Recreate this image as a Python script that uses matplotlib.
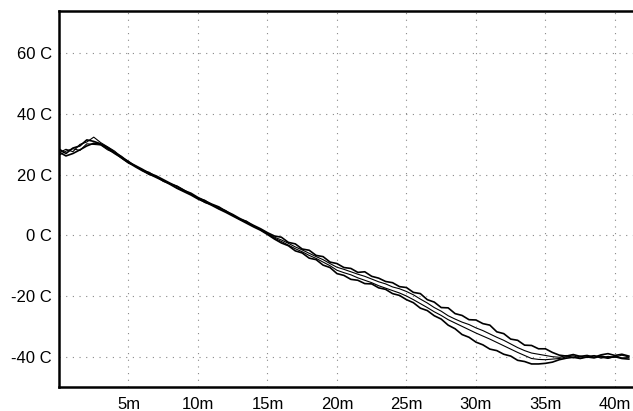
import numpy as np
import matplotlib
matplotlib.use("Agg")
import matplotlib.pyplot as plt

# sample times in minutes (one reading every 30 s)
minutes = np.arange(0, 41.5, 0.5)

# probe temperatures, deg C
probe_a = [28.5, 27.0, 28.8, 29.5, 31.5, 31.0, 30.2, 29.0, 27.4, 26.0,
           24.2, 23.0, 21.8, 20.5, 19.6, 18.4, 17.2, 16.1, 14.8, 13.9,
           12.5, 11.4, 10.3, 9.4, 8.0, 6.9, 5.6, 4.5, 3.3, 2.2,
           0.9, -0.2, -0.6, -2.3, -2.8, -4.5, -4.9, -6.6, -7.0, -8.8,
           -9.3, -10.6, -10.9, -12.2, -12.0, -13.5, -14.1, -15.2, -15.6, -16.9,
           -17.2, -18.8, -19.2, -21.2, -22.0, -23.8, -23.9, -25.8, -26.4, -27.8,
           -27.9, -29.1, -29.6, -31.8, -32.4, -34.2, -34.6, -36.2, -36.3, -37.4,
           -37.4, -38.6, -39.5, -39.8, -39.3, -39.9, -39.6, -40.2, -39.4, -39.0,
           -39.6, -39.2, -39.8]

probe_b = [27.2, 28.4, 27.6, 30.0, 30.8, 32.4, 30.6, 29.2, 27.8, 25.8,
           24.5, 22.8, 21.5, 20.8, 19.3, 18.2, 17.0, 16.3, 15.0, 13.6,
           12.3, 11.6, 10.0, 9.1, 8.2, 6.6, 5.4, 4.7, 3.0, 2.0,
           0.6, -0.6, -1.5, -2.6, -3.8, -4.8, -5.9, -7.0, -8.0, -9.3,
           -10.5, -11.2, -12.0, -12.8, -13.5, -14.4, -15.3, -16.0, -17.0, -17.6,
           -18.5, -19.6, -21.0, -22.3, -23.8, -25.0, -26.5, -27.6, -28.6, -29.4,
           -30.5, -31.4, -32.5, -33.6, -34.6, -35.8, -37.0, -38.0, -38.8, -39.2,
           -39.6, -40.0, -40.2, -39.6, -40.4, -39.8, -40.3, -39.7, -40.5, -39.9,
           -40.2, -39.5, -40.1]

probe_c = [26.4, 27.8, 28.6, 28.0, 30.2, 30.0, 29.8, 28.2, 27.2, 25.4,
           23.8, 22.9, 21.4, 20.0, 19.4, 17.8, 17.0, 15.6, 14.6, 13.5,
           12.2, 10.8, 10.1, 8.8, 7.8, 6.7, 5.3, 4.2, 3.1, 1.8,
           0.5, -0.9, -2.0, -3.2, -4.4, -5.4, -6.6, -7.6, -8.8, -10.0,
           -11.5, -12.3, -13.0, -14.0, -14.8, -15.6, -16.6, -17.4, -18.2, -19.0,
           -20.0, -21.2, -22.5, -23.8, -25.2, -26.4, -27.8, -28.9, -30.0, -31.1,
           -32.2, -33.2, -34.2, -35.3, -36.4, -37.5, -38.6, -39.6, -40.6, -40.9,
           -41.0, -40.8, -40.6, -40.1, -39.7, -40.5, -40.0, -39.6, -40.2, -40.6,
           -40.0, -40.4, -40.3]

probe_d = [27.5, 26.2, 27.0, 28.2, 29.5, 30.4, 30.0, 28.6, 27.0, 25.6,
           24.0, 22.6, 21.3, 20.2, 19.1, 18.0, 16.8, 15.5, 14.4, 13.3,
           12.0, 11.0, 9.9, 8.7, 7.6, 6.4, 5.2, 4.0, 2.8, 1.7,
           0.3, -1.2, -2.5, -3.4, -5.1, -5.8, -7.5, -8.0, -9.8, -10.6,
           -12.6, -13.2, -14.5, -14.8, -15.9, -16.0, -17.3, -17.8, -19.2, -19.8,
           -21.2, -22.2, -24.0, -24.8, -26.5, -27.6, -29.6, -30.8, -32.7, -33.6,
           -35.2, -36.1, -37.5, -38.0, -39.2, -39.8, -41.2, -41.6, -42.4, -42.4,
           -42.2, -41.8, -41.0, -40.5, -40.2, -40.6, -40.1, -40.4, -39.8, -40.3,
           -40.0, -40.6, -40.8]

y_ticks = [60, 40, 20, 0, -20, -40]
x_ticks = [5, 10, 15, 20, 25, 30, 35, 40]

plt.rcParams['font.family'] = ['Liberation Sans', 'DejaVu Sans']

fig = plt.figure(figsize=(6.33, 4.11), dpi=100)
ax = fig.add_axes([59 / 633, 24 / 411, 574 / 633, 376 / 411])

for temps, lw in [(probe_a, 1.2), (probe_b, 0.8), (probe_c, 0.8), (probe_d, 1.2)]:
    ax.plot(minutes, temps, color="black", linewidth=lw)

ax.set_xlim(0, 41.3)
ax.set_ylim(-50, 74)

ax.set_xticks(x_ticks)
ax.set_xticklabels([f"{m}m" for m in x_ticks])
ax.set_yticks(y_ticks)
ax.set_yticklabels([f"{c} C" for c in y_ticks])
ax.tick_params(length=0, labelsize=12, colors="black")
ax.tick_params(axis="x", pad=7)
ax.tick_params(axis="y", pad=5)

ax.grid(True, color="#888888", linestyle=(0, (1, 5)), linewidth=0.8)
ax.set_axisbelow(True)

for side in ["left", "bottom", "top"]:
    ax.spines[side].set_linewidth(1.8)
    ax.spines[side].set_color("black")
ax.spines["right"].set_visible(False)

fig.savefig("out.png", dpi=100)
